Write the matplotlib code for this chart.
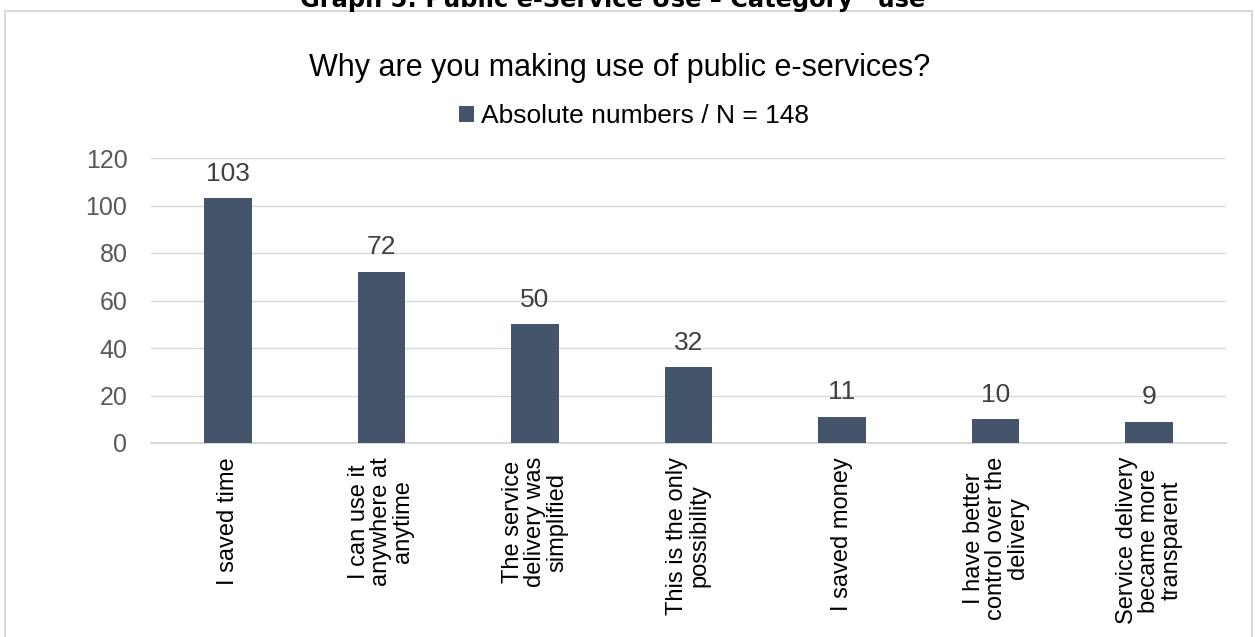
import matplotlib.pyplot as plt
from matplotlib.patches import Rectangle

# Survey answers and counts
reasons = [
    "I saved time",
    "I can use it\nanywhere at\nanytime",
    "The service\ndelivery was\nsimplified",
    "This is the only\npossibility",
    "I saved money",
    "I have better\ncontrol over the\ndelivery",
    "Service delivery\nbecame more\ntransparent",
]
counts = [103, 72, 50, 32, 11, 10, 9]
y_ticks = [0, 20, 40, 60, 80, 100, 120]

bar_color = "#44546a"
grid_color = "#d9d9d9"
text_color = "#595959"

plt.rcParams['font.family'] = ['Liberation Sans', 'DejaVu Sans']

fig = plt.figure(figsize=(12.55, 6.37), dpi=100)

# Outer chart frame
frame = Rectangle((5 / 1255, -0.05), 1247 / 1255, 1.05 - 11 / 637,
                  transform=fig.transFigure, fill=False,
                  edgecolor=grid_color, linewidth=1.5)
fig.patches.append(frame)

# Document heading, partly clipped by the page edge
fig.text(621 / 1255, 1 - 7 / 637,
         "Graph 5: Public e-Service Use \u2013 Category \u201cuse\u201d",
         ha='center', va='baseline', fontsize=17.4, fontweight='bold',
         family='DejaVu Sans', color='black')

ax = fig.add_axes([151 / 1255, (637 - 443) / 637, 1075 / 1255, 285 / 637])

x = range(len(counts))
bars = ax.bar(x, counts, width=0.31, color=bar_color, zorder=3,
              label="Absolute numbers / N = 148")

for xi, v in zip(x, counts):
    ax.annotate(str(v), (xi, v), xytext=(0, 9), textcoords='offset points',
                ha='center', va='bottom', fontsize=19, color="#404040")

ax.set_xlim(-0.5, len(counts) - 0.5)
ax.set_ylim(0, 120)
ax.set_yticks(y_ticks)
ax.yaxis.grid(True, color=grid_color, linewidth=1, zorder=0)
ax.tick_params(axis='y', length=0, pad=17, labelsize=18, labelcolor=text_color)
ax.tick_params(axis='x', length=0, pad=10)
ax.set_xticks(list(x))
ax.set_xticklabels(reasons, rotation=90, ha='center', va='top',
                   multialignment='center', fontsize=17, color='black',
                   linespacing=1.0)

for side in ['top', 'right', 'left']:
    ax.spines[side].set_visible(False)
ax.spines['bottom'].set_color(grid_color)
ax.spines['bottom'].set_linewidth(1.5)

fig.text(620 / 1255, 1 - 68 / 637, "Why are you making use of public e-services?",
         ha='center', va='center', fontsize=22, color='black')

leg = fig.legend(handles=[bars], loc='center', bbox_to_anchor=(634 / 1255, 1 - 116 / 637),
                 frameon=False, fontsize=19, handlelength=0.55, handleheight=0.55,
                 handletextpad=0.25)

fig.savefig("out.png", dpi=100)
